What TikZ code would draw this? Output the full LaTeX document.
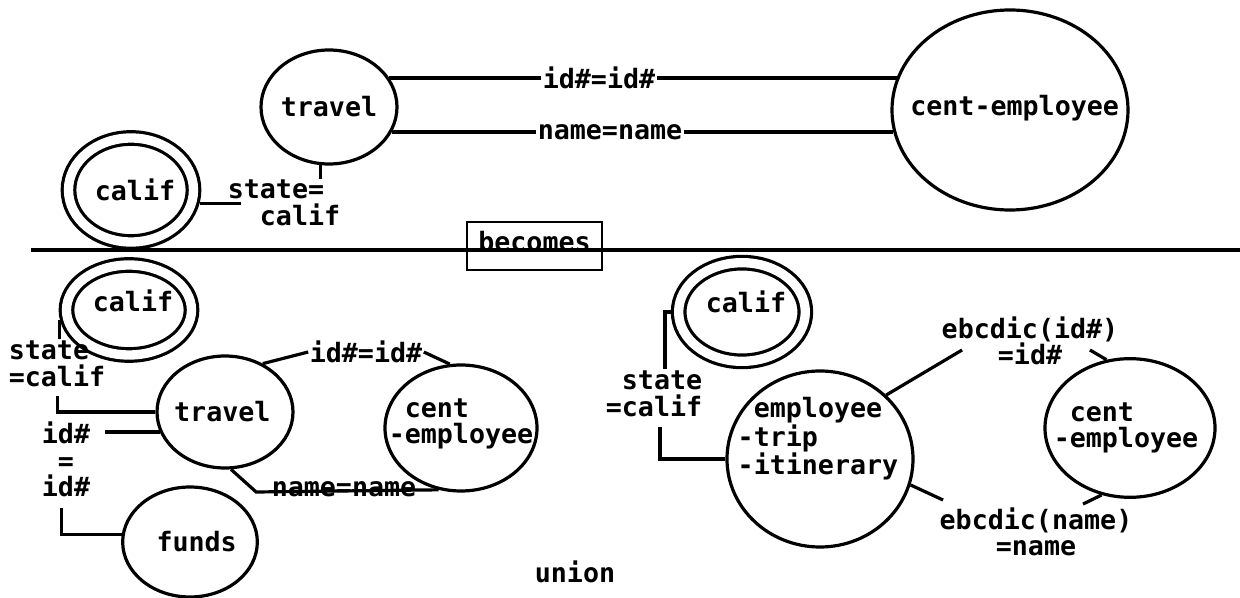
\documentclass[tikz,border=0pt]{standalone}
\usepackage{fontspec}
\newfontfamily\dfont{DejaVu Sans Mono}
\usetikzlibrary{shapes.geometric,calc}
\begin{document}
\begin{tikzpicture}[x=0.75pt,y=-0.75pt,line width=2.4pt,
  txt/.style={font=\dfont\bfseries\fontsize{20}{20}\selectfont,inner sep=0pt},
  ell/.style={ellipse,draw,inner sep=0pt},
  dbl/.style={ellipse,draw,double,double distance=7pt,inner sep=0pt,outer sep=5.9pt},
  lbl/.style={txt,align=left}]
\useasboundingbox (0,0) rectangle (1240,598);

% ---------- top part ----------
\node[ell,minimum width=102pt,minimum height=85.5pt,label={[txt]center:travel}] (travelT) at (329,107) {};
\node[ell,minimum width=177pt,minimum height=150pt,label={[txt,xshift=3.5pt,yshift=1.5pt]center:cent-employee}] (centT) at (1010,110) {};
\node[dbl,minimum width=93.75pt,minimum height=78pt,label={[txt,xshift=3pt]center:calif}] (califT) at (131,190) {};

\node[txt] (idT) at (599,78) {id\#=id\#};
\node[txt] (nameT) at (610,132) {name=name};
\node[lbl] (lblT) at (284,203) {state=\\\phantom{st}calif};
\coordinate (cT) at ($(lblT.west)+(15,0)$);

\draw (idT.west) -- (idT.west -| travelT.26);
\draw (idT.east) -- (idT.east -| centT.164);
\draw (nameT.west) -- (nameT.west -| travelT.-22);
\draw (nameT.east) -- (nameT.east -| centT.191);
\draw (travelT.262) -- (travelT.262 |- lblT.north);
\draw (califT.-11) -- (califT.-11 -| cT);

% ---------- separator ----------
\coordinate (sepL) at (31,250);
\coordinate (sepR) at (1240,250);
\draw (sepL) -- (sepR);
\node[draw,line width=1.8pt,inner sep=0pt,minimum width=101pt,minimum height=36pt,label={[txt,yshift=3.5pt]center:becomes}] (becomes) at (534.5,246) {};

% ---------- bottom left ----------
\node[dbl,minimum width=93.75pt,minimum height=67.5pt,label={[txt,xshift=3pt,yshift=7pt]center:calif}] (califB) at (129,310) {};
\node[ell,minimum width=102pt,minimum height=84pt,label={[txt,xshift=-2pt]center:travel}] (travelB) at (225,412) {};
\node[ell,minimum width=101pt,minimum height=82.5pt,label={[txt,xshift=5pt]center:funds}] (funds) at (190,542) {};
\node[ell,minimum width=114pt,minimum height=94.5pt,label={[lbl,yshift=3pt]center:\phantom{-}cent\\-employee}] (centB) at (461,428) {};

\node[lbl] (lblBL) at (57,363.5) {state\\=calif};
\node[lbl] (lblid) at (66,459.5) {id\#\\\phantom{i}=\\id\#};
\node[txt] (idB) at (366,352) {id\#=id\#};
\node[txt] (nameB) at (344,489) {name=name};

\coordinate (cBL) at ($(lblBL.south west)+(50,8)$);
\coordinate (cid) at ($(lblid.north east)+(13,0)$);
\coordinate (cid2) at ($(lblid.south west)+(21,9)$);
\coordinate (nB1) at ($(nameB.west)+(-14,3)$);

\draw (califB.188) -- (califB.188 |- lblBL.north);
\draw (travelB.west) -| (cBL);
\draw (travelB.197) -- (travelB.197 -| cid);
\draw (funds.174) -| (cid2);
\draw (travelB.52) -- (idB.west);
\draw (idB.east) -- (centB.100);
\draw (travelB.276) -- (nB1) -- (centB.250);

% ---------- bottom right ----------
\node[dbl,minimum width=95pt,minimum height=74pt,label={[txt,xshift=3pt,yshift=7.5pt]center:calif}] (califR) at (742,312) {};
\node[ell,minimum width=139.5pt,minimum height=132pt,label={[lbl,xshift=-1.5pt,yshift=15pt]center:\phantom{-}employee\\-trip\\-itinerary}] (empR) at (820,459) {};
\node[ell,minimum width=127.5pt,minimum height=104pt,label={[lbl,xshift=-3pt]center:\phantom{-}cent\\-employee}] (centR) at (1130,428) {};

\node[txt,align=right] (lblR) at (654,393.5) {state\\=calif};
\node[txt,align=center] (lblE1) at (1030,341) {ebcdic(id\#)\\=id\#};
\node[txt,align=center] (lblE2) at (1036,532) {ebcdic(name)\\=name};
\node[txt] (union) at (575,572) {union};

\coordinate (cR1) at ($(lblR.north)+(11,0)$);
\coordinate (cR2) at ($(lblR.south)+(6,9)$);
\coordinate (cE1) at ($(lblE1.west)+(22,9)$);
\coordinate (cE2) at ($(lblE1.east)+(-30,9)$);
\coordinate (cE3) at ($(lblE2.north west)+(5,-6)$);
\coordinate (cE4) at ($(lblE2.north)+(47,-2)$);

\draw (califR.west) -| (cR1);
\draw (cR2) |- (empR.west);
\draw (empR.44) -- (cE1);
\draw (cE2) -- (centR.109);
\draw (empR.-16) -- (cE3);
\draw (centR.247) -- (cE4);
\end{tikzpicture}
\end{document}
